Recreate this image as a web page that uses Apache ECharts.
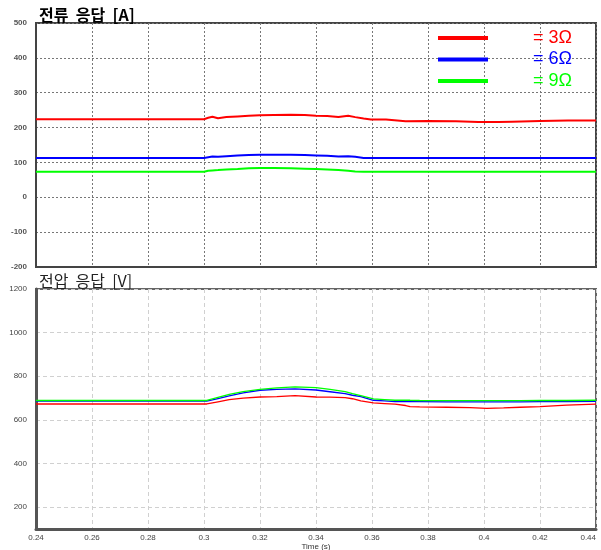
<!DOCTYPE html>
<html>
<head>
<meta charset="utf-8">
<script src="https://cdn.jsdelivr.net/npm/echarts@6/dist/echarts.min.js"></script>
<style>html,body{margin:0;padding:0;background:#fff;}#c{width:601px;height:550px;}</style>
</head>
<body>
<div id="c"></div>
<script>
// ---- data ----
const seriesNames = ['3Ω', '6Ω', '9Ω'];
const seriesColors = ['#ff0000', '#0000ff', '#00ff00'];
const xTicks = [0.24, 0.26, 0.28, 0.30, 0.32, 0.34, 0.36, 0.38, 0.40, 0.42, 0.44];
const currentTicks = [-200, -100, 0, 100, 200, 300, 400, 500];
const voltageTicks = [200, 400, 600, 800, 1000, 1200];

const timeCurrent = [0.24, 0.30, 0.3015, 0.303, 0.305, 0.308, 0.312, 0.316, 0.32, 0.325, 0.331, 0.336, 0.34, 0.344, 0.348, 0.3515, 0.354, 0.357, 0.3596, 0.365, 0.372, 0.38, 0.39, 0.398, 0.405, 0.41, 0.42, 0.43, 0.44];
const current3 = [224, 224, 228, 231, 227, 230, 232, 234, 235, 236, 237, 236, 234, 233, 230, 234, 230, 226, 223, 223, 218, 219, 218, 216, 216, 217, 219, 220, 220];
const current6 = [113, 113, 115, 117, 116, 118, 120, 121, 122, 122, 122, 121, 120, 119, 117, 118, 116, 113, 113, 113, 113, 113, 113, 113, 113, 113, 113, 113, 113];
const current9 = [73, 73, 76, 77, 78, 80, 81, 83, 84, 84, 83, 82, 81, 80, 78, 76, 74, 73, 73, 73, 73, 73, 73, 73, 73, 73, 73, 73, 73];

const timeVoltage = [0.24, 0.301, 0.305, 0.309, 0.314, 0.32, 0.326, 0.3325, 0.34, 0.345, 0.3504, 0.353, 0.356, 0.3605, 0.3645, 0.3682, 0.372, 0.3736, 0.377, 0.3867, 0.395, 0.401, 0.407, 0.4129, 0.42, 0.4295, 0.44];
const voltage3 = [673, 673, 683, 693, 700, 705, 707, 711, 705, 704, 702, 697, 687, 678, 675, 672, 666, 661, 660, 658, 656, 653, 655, 658, 661, 668, 672];
const voltage6 = [686, 686, 698, 710, 724, 736, 740, 742, 737, 729, 720, 713, 707, 690, 687, 684, 685, 684, 684, 683, 683, 683, 683, 683, 684, 684, 685];
const voltage9 = [689, 689, 703, 717, 730, 740, 747, 751, 748, 740, 730, 720, 711, 696, 693, 690, 691, 690, 689, 688, 688, 688, 688, 688, 689, 689, 690];

const currentData = [current3, current6, current9];
const voltageData = [voltage3, voltage6, voltage9];

function pairs(xs, ys) { return xs.map((x, i) => [x, ys[i]]); }

const chart = echarts.init(document.getElementById('c'));
const font = 'Liberation Sans, Arial, sans-serif';
const kfont = 'Noto Sans CJK KR, sans-serif';

const series = [];
currentData.forEach((d, i) => series.push({
  name: seriesNames[i], type: 'line', xAxisIndex: 0, yAxisIndex: 0,
  data: pairs(timeCurrent, d), showSymbol: false, symbol: 'none',
  lineStyle: { color: seriesColors[i], width: 2 }, itemStyle: { color: seriesColors[i] },
  animation: false
}));
voltageData.forEach((d, i) => series.push({
  name: seriesNames[i], type: 'line', xAxisIndex: 1, yAxisIndex: 1,
  data: pairs(timeVoltage, d), showSymbol: false, symbol: 'none',
  lineStyle: { color: seriesColors[i], width: 1.3 }, itemStyle: { color: seriesColors[i] },
  animation: false
}));

chart.setOption({
  animation: false,
  backgroundColor: '#fff',
  title: [
    { text: '전류  응답  [A]', left: 34, top: 2, textStyle: { fontFamily: kfont, fontSize: 16, fontWeight: 'bold', color: '#000' } },
    { text: '전압  응답  [V]', left: 34, top: 268, textStyle: { fontFamily: kfont, fontSize: 16, fontWeight: 'normal', color: '#222' } }
  ],
  legend: {
    data: seriesNames.map((n, i) => ({ name: n, textStyle: { color: seriesColors[i] } })),
    orient: 'vertical', left: 433, top: 23,
    icon: 'rect', itemWidth: 50, itemHeight: 4, itemGap: 1.5,
    formatter: '= {name}',
    selectedMode: false,
    textStyle: { fontFamily: font, fontSize: 18, lineHeight: 20, padding: [0, 0, 0, 40] }
  },
  grid: [
    { left: 36, right: 5, top: 23, height: 244, show: true, borderColor: '#444', borderWidth: 2, containLabel: false, outerBoundsMode: 'none' },
    { left: 36, right: 5, top: 289, height: 240, show: true, borderColor: '#666', borderWidth: 2, containLabel: false, outerBoundsMode: 'none' }
  ],
  xAxis: [
    { type: 'value', gridIndex: 0, min: xTicks[0], max: xTicks[xTicks.length - 1], interval: 0.02,
      axisLabel: { show: false }, axisTick: { show: false },
      axisLine: { show: true, onZero: false, lineStyle: { color: '#444', width: 2 } },
      splitLine: { show: true, lineStyle: { color: '#777', type: [2, 2], width: 1 } } },
    { type: 'value', gridIndex: 1, min: xTicks[0], max: xTicks[xTicks.length - 1], interval: 0.02,
      name: 'Time (s)', nameLocation: 'middle', nameGap: 14,
      nameTextStyle: { fontFamily: font, fontSize: 8, color: '#333' },
      axisLabel: { fontFamily: font, fontSize: 8, color: '#444', margin: 5, alignMaxLabel: 'right' }, axisTick: { show: false },
      axisLine: { show: true, onZero: false, lineStyle: { color: '#555', width: 3 } },
      splitLine: { show: true, lineStyle: { color: '#d0d0d0', type: [4, 3], width: 1 } } }
  ],
  yAxis: [
    { type: 'value', gridIndex: 0, min: currentTicks[0], max: currentTicks[currentTicks.length - 1], interval: 100,
      axisLabel: { fontFamily: font, fontSize: 8, fontWeight: 'bold', color: '#555', margin: 9 }, axisTick: { show: false },
      axisLine: { show: true, onZero: false, lineStyle: { color: '#444', width: 2 } },
      splitLine: { show: true, lineStyle: { color: '#777', type: [2, 2], width: 1 } } },
    { type: 'value', gridIndex: 1, min: 100, max: 1200,
      axisLabel: { fontFamily: font, fontSize: 8, color: '#444', margin: 9, customValues: voltageTicks, formatter: v => String(v) },
      axisTick: { show: false, customValues: voltageTicks },
      axisLine: { show: true, onZero: false, lineStyle: { color: '#555', width: 3 } },
      splitLine: { show: true, lineStyle: { color: '#d0d0d0', type: [4, 3], width: 1 } } }
  ],
  series: series
});
</script>
</body>
</html>
